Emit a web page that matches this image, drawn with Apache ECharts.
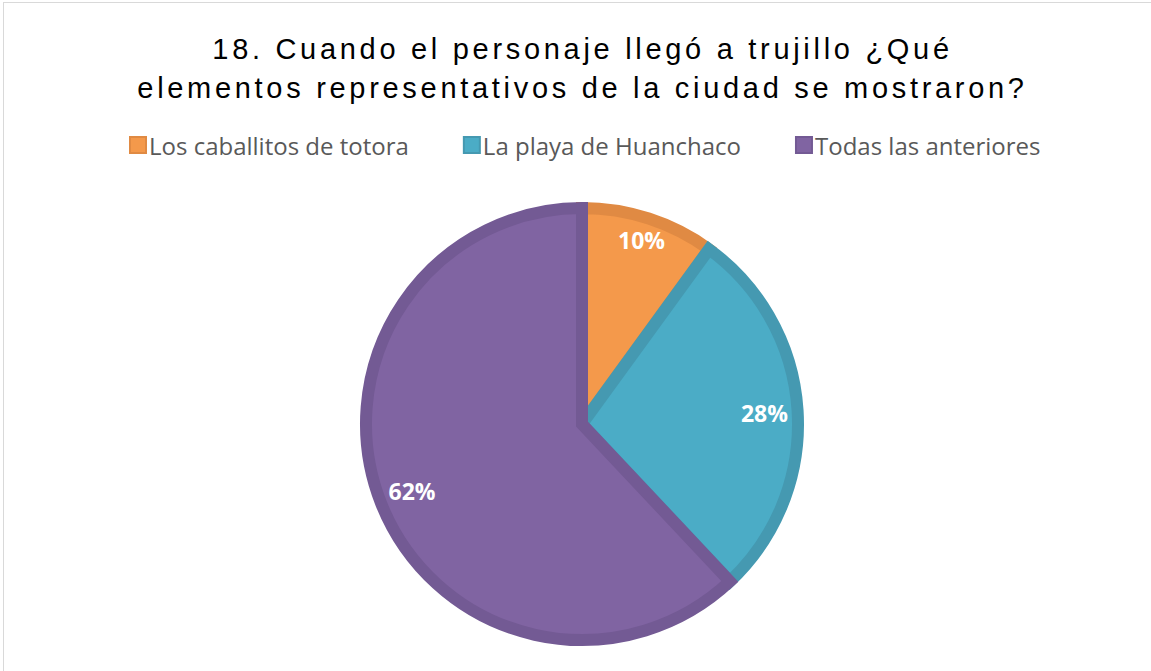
<!DOCTYPE html>
<html>
<head>
<meta charset="utf-8">
<script src="https://cdn.jsdelivr.net/npm/echarts@6/dist/echarts.min.js"></script>
<style>
html,body{margin:0;padding:0;background:#fff;}
#frame{position:absolute;left:3px;top:2px;width:1160px;height:680px;border:1px solid #d9d9d9;box-sizing:border-box;}
#chart{position:absolute;left:0;top:0;width:1151px;height:671px;}
</style>
</head>
<body>
<div id="frame"></div>
<div id="chart"></div>
<script>
const titleLines = ['18. Cuando el personaje llegó a trujillo ¿Qué', 'elementos representativos de la ciudad se mostraron?'];
const categories = ['Los caballitos de totora', 'La playa de Huanchaco', 'Todas las anteriores'];
const values = [10, 28, 62];
const fillColors = ['#F4994B', '#4BACC6', '#8064A2'];
const borderColors = ['#E08A43', '#4599B1', '#735A94'];

const chart = echarts.init(document.getElementById('chart'), null, {renderer: 'svg'});
const pieData = categories.map((c, i) => ({
  name: c, value: values[i],
  itemStyle: {color: fillColors[i], borderColor: borderColors[i]}
}));
const cx = 582, cy = 424, R = 222;
chart.setOption({
  animation: false,
  title: {
    text: titleLines.join('\n'),
    left: 'center', top: 24,
    textStyle: {fontFamily: 'Liberation Sans', fontSize: 29, fontWeight: 'normal', color: '#000', lineHeight: 39}
  },
  legend: {
    data: categories,
    top: 128, left: 124,
    itemWidth: 16, itemHeight: 16, itemGap: 54,
    icon: 'rect',
    textStyle: {fontFamily: 'Open Sans', fontSize: 24, color: '#595959', padding: [0, 0, 0, -2]}
  },
  series: [{
    type: 'pie',
    center: [cx, cy],
    radius: [0, R - 6],
    startAngle: 90,
    clockwise: true,
    itemStyle: {borderWidth: 12, borderJoin: 'miter'},
    label: {show: false},
    labelLine: {show: false},
    emphasis: {disabled: true},
    data: pieData
  }, {
    type: 'pie',
    center: [cx, cy],
    radius: [R * 0.62, R],
    startAngle: 90,
    clockwise: true,
    silent: true,
    legendHoverLink: false,
    itemStyle: {color: 'transparent', borderWidth: 0},
    label: {
      show: true, position: 'inside',
      formatter: p => p.value + '%',
      fontFamily: 'Open Sans', fontSize: 23, fontWeight: 'bold', color: '#fff'
    },
    labelLayout: p => (p.dataIndex === 0 ? {dx: 3, dy: -10} : {}),
    labelLine: {show: false},
    data: categories.map((c, i) => ({name: c, value: values[i], itemStyle: {color: 'transparent'}}))
  }]
});
function spaceTitle() {
  document.querySelectorAll('#chart svg text').forEach(t => {
    if (titleLines.indexOf(t.textContent) >= 0 && !t.dataset.sp) {
      t.dataset.sp = '1';
      t.style.letterSpacing = '3.7px';
      const x = parseFloat(t.getAttribute('x') || '0');
      t.setAttribute('x', x + 7);
    }
  });
}
spaceTitle();
chart.on('finished', spaceTitle);
setTimeout(spaceTitle, 50);
</script>
</body>
</html>
